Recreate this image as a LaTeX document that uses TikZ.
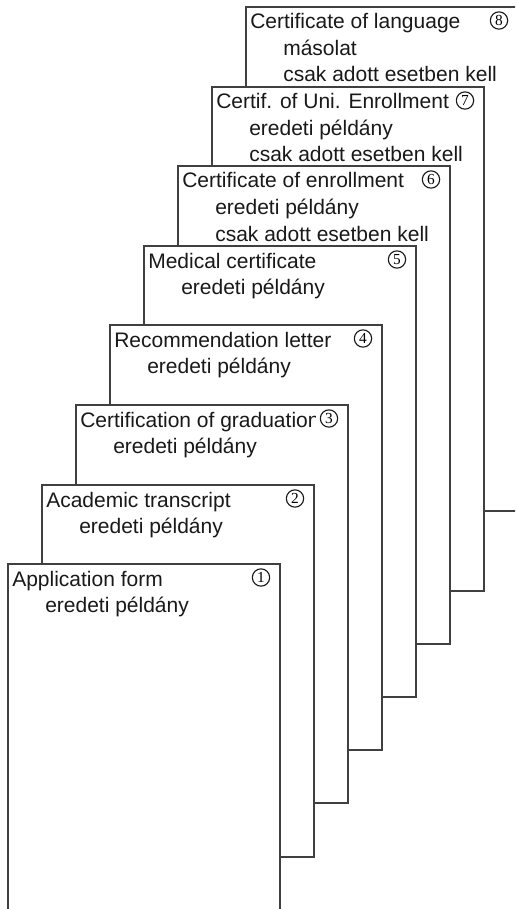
\documentclass[tikz,border=0pt]{standalone}
\usepackage{fontspec}
\setmainfont{Liberation Sans}
\newfontfamily\numfont{Liberation Serif}
\newcommand\docpage[7]{%
  % #1 id, #2 left, #3 top, #4 bottom, #5 title, #6 second line, #7 third line
  \node[page, minimum width=204pt, minimum height={(#4-#3)*0.75pt}] (p#1) at (#2+136,{(#3+#4)/2}) {};
  \node[ttl] (t#1) at (#2+4,#3+22) {#5};
  \node[ttl] (a#1) at (#2+37,#3+48.5) {#6};
  \node[ttl] (b#1) at (#2+37,#3+75) {#7};
  \fill[white] (#2+272-32,#3+3) rectangle (#2+272-3,#3+25);
  \node[num] (n#1) at (#2+272-19,#3+13.5) {#1};
}
\begin{document}
\begin{tikzpicture}[x=0.75pt,y=-0.75pt,
  page/.style={draw=black!75, fill=white, line width=1pt, rectangle, inner sep=0pt},
  ttl/.style={anchor=base west, inner sep=0pt, font=\fontsize{15.75}{18}\selectfont, text=black!90},
  num/.style={circle, draw=black!90, fill=white, line width=0.85pt, minimum size=13pt, inner sep=0pt, font=\numfont\fontsize{11.5}{11.5}\selectfont}]
\useasboundingbox (0,0) rectangle (515,909);
\clip (0,0) rectangle (515,909);
\docpage{8}{246}{7}{511}{Certificate of language}{másolat}{csak adott esetben kell}
\docpage{7}{212}{87}{591}{Certif. of Uni. Enrollment}{eredeti példány}{csak adott esetben kell}
\docpage{6}{178}{166}{644}{Certificate of enrollment}{eredeti példány}{csak adott esetben kell}
\docpage{5}{144}{246}{697}{Medical certificate}{eredeti példány}{}
\docpage{4}{110}{325}{750}{Recommendation letter}{eredeti példány}{}
\docpage{3}{76}{405}{803}{Certification of graduation}{eredeti példány}{}
\docpage{2}{42}{485}{857}{Academic transcript}{eredeti példány}{}
\docpage{1}{8}{564}{940}{Application form}{eredeti példány}{}
\end{tikzpicture}
\end{document}
